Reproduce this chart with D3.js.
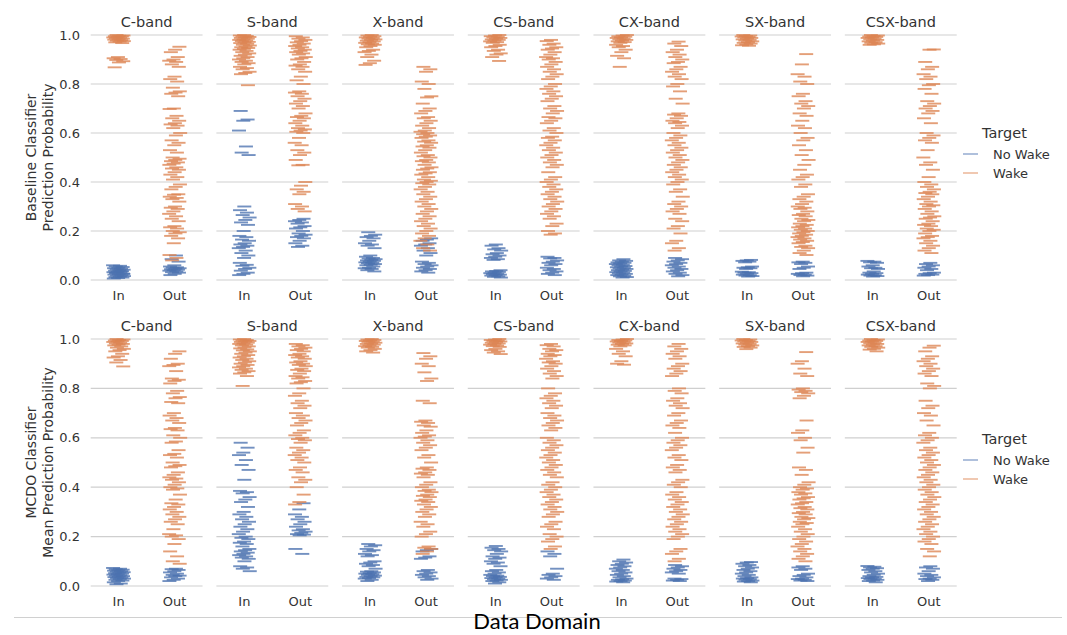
<!DOCTYPE html>
<html>
<head>
<meta charset="utf-8">
<script src="https://cdn.jsdelivr.net/npm/d3@7"></script>
<style>
  body { margin: 0; background: #fff; }
  svg { font-family: "DejaVu Sans", sans-serif; }
</style>
</head>
<body>
<div id="chart"></div>
<script>
var bands = ["C-band", "S-band", "X-band", "CS-band", "CX-band", "SX-band", "CSX-band"];
var domains = ["In", "Out"];
var targets = ["No Wake", "Wake"];
var yTicks = [0, 0.2, 0.4, 0.6, 0.8, 1.0];
var rowLabels = [["Baseline Classifier", "Prediction Probability"], ["MCDO Classifier", "Mean Prediction Probability"]];

// ---- baseline classifier
var bC_inNo = [.06,.058,.055,.053,.05,.048,.046,.044,.042,.04,.038,.036,.034,.032,.03,.028,.026,.024,.022,.02,.018,.016,.014,.012,.01,.008,.006,.035,.03,.025];
var bC_inWk = [1,.998,.997,.995,.994,.992,.99,.989,.987,.985,.983,.981,.979,.977,.975,.973,.97,.967,.91,.905,.902,.898,.893,.888,.868];
var bC_outNo = [.1,.085,.075,.06,.055,.052,.05,.048,.046,.044,.042,.04,.038,.035,.032,.03,.025,.02];
var bC_outWk = [.952,.94,.93,.91,.9,.895,.89,.88,.87,.83,.82,.81,.785,.77,.765,.76,.75,.7,.698,.67,.66,.65,.64,.635,.63,.62,.6,.59,.57,.56,.55,.53,.52,.5,.495,.49,.485,.48,.475,.47,.46,.455,.45,.44,.43,.42,.41,.39,.38,.37,.35,.348,.34,.335,.33,.32,.3,.295,.29,.28,.27,.26,.25,.24,.22,.215,.21,.2,.195,.19,.18,.17,.15,.102,.09,.08];

var bS_inNo = [.69,.655,.65,.61,.545,.52,.51,.3,.285,.275,.265,.255,.245,.235,.225,.2,.18,.175,.165,.16,.15,.145,.14,.135,.13,.12,.11,.1,.09,.07,.062,.058,.05,.045,.038,.03,.025,.02];
var bS_inWk = [1,.998,.996,.994,.992,.99,.988,.985,.982,.98,.978,.975,.972,.97,.967,.964,.96,.957,.953,.95,.947,.943,.94,.935,.93,.925,.92,.915,.91,.905,.9,.895,.89,.885,.88,.87,.865,.86,.85,.845,.84,.795];
var bS_outNo = [.25,.245,.24,.235,.23,.22,.215,.21,.2,.19,.185,.18,.175,.17,.16,.15,.14,.135];
var bS_outWk = [.995,.99,.985,.98,.975,.97,.965,.96,.955,.95,.945,.94,.935,.93,.925,.92,.91,.905,.9,.89,.88,.875,.87,.86,.85,.83,.815,.8,.77,.765,.76,.75,.74,.73,.72,.71,.7,.68,.67,.665,.66,.65,.64,.63,.62,.615,.61,.605,.6,.58,.56,.55,.53,.52,.51,.49,.47,.468,.4,.385,.37,.36,.35,.31,.3,.29,.28];

var bX_inNo = [.195,.185,.18,.175,.17,.16,.15,.145,.14,.13,.1,.095,.09,.088,.085,.082,.08,.078,.075,.072,.07,.068,.065,.062,.06,.055,.05,.048,.045,.04,.035];
var bX_inWk = [1,.998,.995,.993,.99,.988,.985,.982,.98,.977,.974,.971,.968,.965,.962,.96,.955,.95,.94,.935,.93,.92,.91,.895,.885,.878];
var bX_outNo = [.17,.165,.16,.15,.145,.14,.13,.12,.11,.1,.075,.07,.065,.06,.055,.05,.045,.04,.035,.03];
var bX_outWk = [.87,.86,.85,.81,.8,.78,.75,.745,.72,.7,.69,.68,.665,.66,.65,.64,.63,.62,.61,.605,.6,.595,.59,.585,.58,.57,.565,.56,.55,.545,.54,.53,.52,.51,.505,.5,.49,.485,.48,.47,.46,.455,.45,.44,.435,.43,.42,.41,.405,.4,.395,.39,.38,.37,.36,.35,.34,.33,.32,.31,.3,.29,.28,.27,.26,.25,.24,.23,.22,.21,.2,.19,.18,.17,.16,.145,.13,.12];

var bCS_inNo = [.145,.14,.13,.125,.12,.11,.105,.1,.095,.09,.085,.082,.04,.037,.035,.033,.03,.028,.026,.024,.022,.02,.018,.015,.013,.01];
var bCS_inWk = [1,.998,.995,.993,.99,.988,.985,.982,.98,.977,.974,.971,.968,.96,.955,.95,.94,.935,.925,.92,.91,.894];
var bCS_outNo = [.095,.09,.088,.08,.075,.07,.065,.06,.05,.045,.04,.035,.03,.025,.02];
var bCS_outWk = [.98,.975,.965,.96,.95,.945,.94,.93,.92,.91,.905,.9,.89,.88,.87,.86,.85,.84,.83,.82,.8,.79,.78,.77,.76,.75,.74,.73,.71,.7,.69,.68,.665,.66,.65,.64,.62,.61,.6,.585,.58,.57,.56,.55,.54,.53,.52,.51,.5,.49,.48,.47,.46,.44,.42,.41,.4,.39,.38,.37,.36,.35,.34,.33,.32,.31,.3,.29,.28,.27,.26,.25,.23,.22,.2,.19,.185];

var bCX_inNo = [.085,.08,.078,.075,.072,.07,.068,.065,.062,.06,.057,.055,.052,.05,.047,.045,.042,.04,.037,.035,.032,.03,.027,.025,.022,.02,.017,.015,.012,.01];
var bCX_inWk = [1,.998,.995,.993,.99,.988,.985,.982,.98,.977,.974,.971,.968,.96,.955,.95,.94,.93,.915,.905,.87];
var bCX_outNo = [.09,.085,.08,.075,.07,.065,.06,.055,.05,.045,.04,.035,.03,.025,.02,.015];
var bCX_outWk = [.973,.965,.955,.94,.93,.92,.91,.9,.89,.885,.87,.86,.85,.84,.83,.82,.8,.79,.77,.74,.72,.68,.675,.67,.66,.65,.645,.64,.63,.62,.6,.59,.58,.57,.56,.55,.54,.53,.52,.51,.5,.49,.48,.47,.46,.45,.44,.43,.42,.41,.4,.39,.37,.36,.34,.32,.31,.3,.29,.28,.27,.25,.24,.22,.21,.19,.16,.15,.13,.12];

var bSX_inNo = [.082,.08,.078,.075,.072,.055,.052,.05,.048,.045,.034,.032,.03,.028,.025,.022,.02,.018,.016,.014];
var bSX_inWk = [1,.998,.996,.994,.992,.99,.988,.985,.982,.98,.977,.974,.971,.968,.965,.962,.958,.956];
var bSX_outNo = [.075,.072,.07,.065,.055,.05,.045,.03,.028,.025,.022,.02,.018,.015];
var bSX_outWk = [.922,.88,.84,.83,.81,.8,.76,.75,.73,.72,.71,.7,.68,.67,.65,.63,.62,.6,.58,.57,.55,.53,.51,.49,.47,.45,.43,.42,.41,.39,.38,.35,.34,.33,.32,.31,.3,.295,.29,.28,.27,.265,.26,.25,.245,.24,.23,.225,.22,.215,.21,.205,.2,.195,.19,.185,.18,.175,.17,.165,.16,.155,.15,.14,.135,.13,.12,.11,.102];

var bCSX_inNo = [.078,.075,.072,.07,.06,.055,.05,.048,.045,.035,.03,.028,.025,.022,.02,.018,.016,.014];
var bCSX_inWk = [1,.998,.996,.994,.992,.99,.988,.985,.982,.98,.977,.974,.971,.968,.965,.962,.96];
var bCSX_outNo = [.07,.065,.06,.055,.05,.045,.04,.03,.028,.025,.022,.02,.018];
var bCSX_outWk = [.941,.94,.89,.87,.86,.84,.83,.82,.8,.795,.78,.76,.73,.72,.71,.7,.69,.68,.66,.64,.6,.59,.58,.57,.56,.53,.5,.48,.47,.45,.42,.4,.39,.38,.37,.36,.355,.35,.34,.33,.32,.31,.305,.3,.29,.28,.27,.26,.255,.25,.24,.23,.225,.22,.21,.205,.2,.19,.18,.175,.17,.16,.15,.14,.13,.12,.11];

// ---- MCDO classifier
var mC_inNo = [.073,.07,.068,.066,.064,.062,.06,.058,.056,.054,.052,.05,.048,.046,.044,.042,.04,.038,.036,.034,.032,.03,.028,.025,.022,.02,.015,.01,.007];
var mC_inWk = [1,.998,.996,.994,.992,.99,.988,.985,.982,.98,.977,.974,.97,.965,.96,.955,.95,.94,.93,.925,.915,.905,.889];
var mC_outNo = [.07,.068,.065,.06,.055,.05,.045,.042,.04,.035,.03,.025,.02];
var mC_outWk = [.95,.94,.92,.9,.895,.89,.87,.84,.835,.83,.82,.79,.78,.765,.76,.745,.74,.7,.69,.68,.67,.66,.64,.635,.63,.61,.6,.585,.58,.55,.535,.53,.52,.5,.49,.485,.48,.46,.45,.44,.435,.43,.42,.41,.4,.395,.39,.37,.35,.335,.33,.32,.31,.3,.29,.28,.27,.26,.25,.23,.21,.205,.2,.19,.17,.14,.12,.1,.09];

var mS_inNo = [.58,.56,.54,.53,.51,.49,.47,.43,.385,.38,.375,.36,.35,.34,.32,.3,.29,.28,.27,.26,.25,.24,.23,.22,.21,.2,.195,.19,.18,.175,.17,.16,.15,.145,.14,.135,.13,.125,.12,.115,.11,.1,.08,.075,.07,.06];
var mS_inWk = [1,.998,.996,.994,.992,.99,.988,.985,.982,.98,.977,.974,.97,.966,.962,.958,.954,.95,.945,.94,.935,.93,.925,.92,.915,.91,.905,.9,.895,.89,.885,.88,.875,.87,.865,.86,.85,.81];
var mS_outNo = [.335,.31,.29,.28,.27,.26,.25,.24,.23,.225,.22,.215,.21,.208,.205,.15,.13];
var mS_outWk = [.98,.975,.97,.965,.96,.955,.95,.94,.935,.93,.925,.92,.91,.905,.9,.895,.89,.88,.875,.87,.86,.85,.845,.84,.83,.825,.82,.8,.78,.77,.75,.74,.73,.72,.7,.69,.68,.67,.66,.65,.63,.62,.61,.6,.595,.59,.58,.56,.55,.54,.53,.52,.51,.5,.48,.47,.46,.44,.43,.42,.4,.37,.34,.33];

var mX_inNo = [.17,.165,.16,.15,.145,.14,.13,.125,.12,.1,.095,.09,.085,.08,.07,.06,.058,.055,.052,.05,.048,.045,.042,.04,.037,.035,.032,.03,.025,.02];
var mX_inWk = [1,.998,.996,.994,.992,.99,.988,.985,.982,.98,.977,.974,.971,.968,.965,.96,.955,.95,.945];
var mX_outNo = [.15,.145,.14,.12,.115,.11,.065,.06,.055,.05,.045,.04,.035,.03,.025];
var mX_outWk = [.943,.93,.92,.9,.89,.865,.84,.83,.75,.74,.67,.665,.66,.65,.645,.63,.62,.61,.605,.6,.59,.58,.57,.56,.55,.53,.52,.5,.48,.475,.47,.46,.455,.45,.44,.42,.41,.4,.39,.385,.38,.37,.365,.36,.35,.345,.34,.33,.32,.31,.3,.29,.28,.26,.25,.24,.22,.21,.2,.16,.155,.15,.14,.13];

var mCS_inNo = [.162,.155,.15,.145,.14,.13,.12,.115,.11,.1,.095,.09,.08,.065,.06,.055,.05,.045,.042,.04,.037,.035,.032,.03,.027,.025,.022,.02,.015,.01];
var mCS_inWk = [1,.998,.996,.994,.992,.99,.988,.985,.982,.98,.977,.974,.971,.968,.96,.955,.95,.945,.939];
var mCS_outNo = [.14,.13,.12,.07,.05,.045,.04,.035,.03,.025];
var mCS_outWk = [.98,.975,.97,.96,.955,.95,.94,.935,.93,.92,.91,.905,.9,.89,.88,.87,.86,.85,.84,.8,.78,.77,.76,.75,.74,.73,.72,.7,.69,.68,.67,.66,.65,.64,.63,.6,.59,.58,.57,.56,.55,.54,.53,.52,.51,.5,.49,.48,.47,.46,.45,.44,.42,.41,.4,.39,.38,.37,.36,.35,.34,.33,.32,.31,.3,.29,.28,.26,.25,.24,.23,.21,.2,.19,.18,.16,.15];

var mCX_inNo = [.107,.1,.095,.09,.085,.08,.075,.07,.065,.06,.055,.05,.045,.04,.035,.03,.027,.025,.022,.02,.018,.015];
var mCX_inWk = [1,.998,.996,.994,.992,.99,.988,.985,.982,.98,.977,.974,.97,.96,.95,.94,.93,.91,.9,.896];
var mCX_outNo = [.085,.08,.075,.07,.065,.06,.055,.05,.03,.028,.025,.022,.02];
var mCX_outWk = [.98,.97,.96,.95,.94,.93,.92,.9,.89,.88,.87,.86,.85,.8,.79,.78,.76,.75,.74,.73,.72,.7,.69,.67,.66,.65,.64,.62,.6,.59,.58,.57,.56,.55,.53,.52,.51,.49,.48,.47,.46,.43,.42,.41,.4,.38,.37,.36,.35,.34,.33,.32,.31,.3,.29,.28,.27,.26,.25,.24,.23,.22,.21,.2,.19,.15,.14,.13,.11,.1];

var mSX_inNo = [.097,.095,.09,.085,.08,.075,.07,.065,.06,.055,.05,.045,.04,.035,.032,.03,.028,.025,.022,.02,.018,.015];
var mSX_inWk = [1,.998,.996,.994,.992,.99,.988,.985,.982,.98,.977,.974,.971,.968,.965,.959];
var mSX_outNo = [.08,.075,.07,.065,.05,.045,.04,.035,.03,.028,.025,.022,.02];
var mSX_outWk = [.947,.91,.9,.88,.86,.85,.8,.795,.79,.785,.78,.77,.76,.67,.63,.62,.6,.59,.56,.54,.48,.47,.45,.42,.41,.4,.395,.39,.38,.375,.37,.36,.355,.35,.34,.335,.33,.32,.315,.31,.3,.295,.29,.28,.275,.27,.26,.255,.25,.24,.23,.22,.21,.2,.19,.18,.17,.16,.15,.14,.13,.12,.11,.1];

var mCSX_inNo = [.081,.078,.075,.072,.07,.065,.06,.055,.05,.045,.04,.037,.035,.032,.03,.028,.025,.022,.02,.015];
var mCSX_inWk = [1,.998,.996,.994,.992,.99,.988,.985,.982,.98,.977,.974,.971,.968,.965,.96,.957,.95];
var mCSX_outNo = [.08,.075,.07,.06,.05,.045,.04,.035,.03,.028,.025,.02];
var mCSX_outWk = [.973,.965,.95,.93,.92,.91,.9,.89,.88,.87,.86,.85,.82,.81,.8,.75,.73,.72,.7,.69,.67,.65,.62,.61,.6,.59,.58,.56,.55,.54,.53,.52,.51,.5,.49,.48,.47,.46,.45,.44,.43,.42,.41,.4,.39,.38,.37,.36,.35,.34,.33,.32,.31,.3,.29,.28,.27,.26,.25,.24,.23,.22,.21,.2,.19,.18,.17,.15,.14,.12];

// table: row -> band -> [In No, In Wake, Out No, Out Wake]
var table = [
  [[bC_inNo,bC_inWk,bC_outNo,bC_outWk],[bS_inNo,bS_inWk,bS_outNo,bS_outWk],[bX_inNo,bX_inWk,bX_outNo,bX_outWk],
   [bCS_inNo,bCS_inWk,bCS_outNo,bCS_outWk],[bCX_inNo,bCX_inWk,bCX_outNo,bCX_outWk],[bSX_inNo,bSX_inWk,bSX_outNo,bSX_outWk],
   [bCSX_inNo,bCSX_inWk,bCSX_outNo,bCSX_outWk]],
  [[mC_inNo,mC_inWk,mC_outNo,mC_outWk],[mS_inNo,mS_inWk,mS_outNo,mS_outWk],[mX_inNo,mX_inWk,mX_outNo,mX_outWk],
   [mCS_inNo,mCS_inWk,mCS_outNo,mCS_outWk],[mCX_inNo,mCX_inWk,mCX_outNo,mCX_outWk],[mSX_inNo,mSX_inWk,mSX_outNo,mSX_outWk],
   [mCSX_inNo,mCSX_inWk,mCSX_outNo,mCSX_outWk]]
];

var width = 1067, height = 635;
var rowTop = [35, 339], rowBottom = [280, 586];
var textCol = "#333333", gridCol = "#cfcfcf";

var color = d3.scaleOrdinal().domain(targets).range(["#4c72b0", "#dd8452"]);

var fx = d3.scaleBand().domain(bands).range([90.7, 956.7]).paddingInner(0.11);
var px = d3.scalePoint().domain(domains).range([0, fx.bandwidth()]).padding(0.5);

var svg = d3.select("#chart").append("svg")
  .attr("width", width)
  .attr("height", height);

var dashW = 14, jit = 5.6;

table.forEach(function(row, r) {
  var y = d3.scaleLinear().domain([0, 1]).range([rowBottom[r], rowTop[r]]);

  // y tick labels (left facet only)
  svg.append("g")
    .selectAll("text")
    .data(yTicks)
    .enter().append("text")
    .attr("x", 80)
    .attr("y", function(d) { return y(d); })
    .attr("dy", "0.35em")
    .attr("text-anchor", "end")
    .style("font-size", "13px")
    .style("fill", textCol)
    .text(function(d) { return d3.format(".1f")(d); });

  // y axis label, two lines
  var cy = (rowTop[r] + rowBottom[r]) / 2;
  rowLabels[r].forEach(function(t, k) {
    svg.append("text")
      .attr("transform", "translate(" + (36 + k * 16.5) + "," + cy + ") rotate(-90)")
      .attr("text-anchor", "middle")
      .style("font-size", "14px")
      .style("fill", textCol)
      .text(t);
  });

  row.forEach(function(strips, b) {
    var g = svg.append("g").attr("transform", "translate(" + fx(bands[b]) + ",0)");

    g.selectAll(".grid")
      .data(yTicks)
      .enter().append("line")
      .attr("x1", 0).attr("x2", fx.bandwidth())
      .attr("y1", function(d) { return y(d); })
      .attr("y2", function(d) { return y(d); })
      .attr("stroke", gridCol)
      .attr("stroke-width", 1.2);

    g.append("text")
      .attr("x", fx.bandwidth() / 2)
      .attr("y", rowTop[r] - 8)
      .attr("text-anchor", "middle")
      .style("font-size", "14.5px")
      .style("fill", textCol)
      .text(bands[b]);

    g.selectAll(".xlab")
      .data(domains)
      .enter().append("text")
      .attr("x", function(d) { return px(d); })
      .attr("y", rowBottom[r] + 19.5)
      .attr("text-anchor", "middle")
      .style("font-size", "13px")
      .style("fill", textCol)
      .text(function(d) { return d; });

    // strips: No Wake first, then Wake over it
    [0, 2, 1, 3].forEach(function(s) {
      var dom = domains[s < 2 ? 0 : 1];
      var tgt = targets[s % 2];
      var cx = px(dom);
      g.append("g")
        .selectAll("line")
        .data(strips[s])
        .enter().append("line")
        .attr("x1", function(d, i) { return cx + ((i * 0.6180339887 + s * 0.31 + b * 0.17) % 1 - 0.5) * 2 * jit - dashW / 2; })
        .attr("x2", function(d, i) { return cx + ((i * 0.6180339887 + s * 0.31 + b * 0.17) % 1 - 0.5) * 2 * jit + dashW / 2; })
        .attr("y1", function(d) { return y(d); })
        .attr("y2", function(d) { return y(d); })
        .attr("stroke", color(tgt))
        .attr("stroke-width", 1.9)
        .attr("stroke-opacity", 0.78);
    });
  });

  // legend
  var lg = svg.append("g").attr("transform", "translate(0," + (r === 0 ? 0 : 306) + ")");
  lg.append("text")
    .attr("x", 982).attr("y", 138)
    .style("font-size", "14.5px")
    .style("fill", textCol)
    .text("Target");
  targets.forEach(function(t, k) {
    lg.append("line")
      .attr("x1", 963).attr("x2", 978)
      .attr("y1", 154 + k * 19).attr("y2", 154 + k * 19)
      .attr("stroke", color(t))
      .attr("stroke-width", 1.5)
      .attr("stroke-opacity", 0.6);
    lg.append("text")
      .attr("x", 993).attr("y", 154 + k * 19)
      .attr("dy", "0.35em")
      .style("font-size", "13px")
      .style("fill", textCol)
      .text(t);
  });
});

// bottom rule and caption
svg.append("line")
  .attr("x1", 14).attr("x2", 1062)
  .attr("y1", 617.5).attr("y2", 617.5)
  .attr("stroke", "#d0d0d0")
  .attr("stroke-width", 1);

svg.append("text")
  .attr("x", 537).attr("y", 629)
  .attr("text-anchor", "middle")
  .style("font-family", "Lato, 'Open Sans', sans-serif")
  .style("font-size", "22px")
  .style("fill", "#000")
  .text("Data Domain");
</script>
</body>
</html>
